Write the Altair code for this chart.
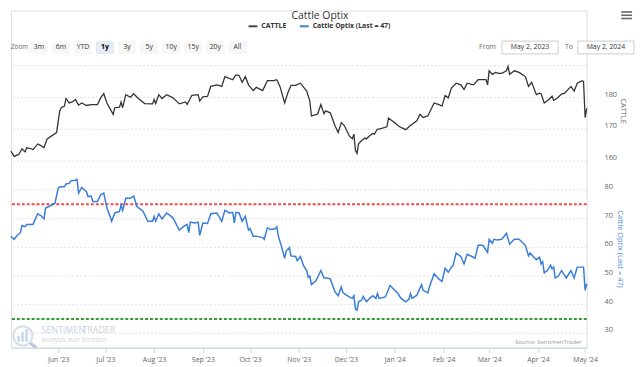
import altair as alt
import pandas as pd

# ---------------- data ----------------
cattle_dates = [
    "2023-05-02", "2023-05-04", "2023-05-07", "2023-05-09", "2023-05-11", "2023-05-12", "2023-05-15", "2023-05-16", "2023-05-19", "2023-05-21",
    "2023-05-23", "2023-05-25", "2023-05-31", "2023-06-02", "2023-06-03", "2023-06-05", "2023-06-06", "2023-06-08", "2023-06-10", "2023-06-12",
    "2023-06-14", "2023-06-16", "2023-06-19", "2023-06-22", "2023-06-26", "2023-06-28", "2023-06-30", "2023-07-02", "2023-07-06", "2023-07-07",
    "2023-07-10", "2023-07-11", "2023-07-12", "2023-07-14", "2023-07-17", "2023-07-19", "2023-07-22", "2023-07-26", "2023-07-31", "2023-08-01",
    "2023-08-02", "2023-08-04", "2023-08-06", "2023-08-09", "2023-08-13", "2023-08-17", "2023-08-21", "2023-08-22", "2023-08-25", "2023-08-29",
    "2023-08-30", "2023-09-01", "2023-09-04", "2023-09-06", "2023-09-10", "2023-09-13", "2023-09-15", "2023-09-20", "2023-09-22", "2023-09-24",
    "2023-09-26", "2023-09-28", "2023-09-30", "2023-10-03", "2023-10-05", "2023-10-09", "2023-10-12", "2023-10-16", "2023-10-18", "2023-10-20",
    "2023-10-23", "2023-10-25", "2023-10-27", "2023-10-30", "2023-11-02", "2023-11-06", "2023-11-08", "2023-11-09", "2023-11-13", "2023-11-15",
    "2023-11-17", "2023-11-18", "2023-11-21", "2023-11-24", "2023-11-26", "2023-11-28", "2023-11-30", "2023-12-03", "2023-12-05", "2023-12-06",
    "2023-12-07", "2023-12-08", "2023-12-09", "2023-12-11", "2023-12-13", "2023-12-14", "2023-12-16", "2023-12-18", "2023-12-19", "2023-12-21",
    "2023-12-22", "2023-12-27", "2023-12-28", "2024-01-01", "2024-01-04", "2024-01-08", "2024-01-10", "2024-01-12", "2024-01-15", "2024-01-17",
    "2024-01-19", "2024-01-22", "2024-01-26", "2024-01-29", "2024-01-31", "2024-02-02", "2024-02-04", "2024-02-06", "2024-02-09", "2024-02-12",
    "2024-02-14", "2024-02-16", "2024-02-20", "2024-02-23", "2024-02-28", "2024-02-29", "2024-03-01", "2024-03-03", "2024-03-05", "2024-03-07",
    "2024-03-09", "2024-03-12", "2024-03-13", "2024-03-14", "2024-03-17", "2024-03-20", "2024-03-24", "2024-03-26", "2024-03-28", "2024-03-31",
    "2024-04-02", "2024-04-03", "2024-04-05", "2024-04-08", "2024-04-10", "2024-04-11", "2024-04-13", "2024-04-16", "2024-04-18", "2024-04-22",
    "2024-04-24", "2024-04-26", "2024-04-29", "2024-04-30", "2024-05-01", "2024-05-02",
]
cattle_values = [
    163.2, 161.5, 162.1, 163.9, 162.9, 164.2, 163.9, 163.6, 165.4, 164.9,
    164.2, 167.0, 169.0, 175.8, 176.8, 177.3, 179.7, 178.3, 178.6, 179.4,
    177.6, 178.3, 177.5, 177.8, 177.8, 179.9, 181.2, 178.3, 174.7, 176.8,
    177.0, 178.6, 176.8, 180.9, 180.1, 181.2, 179.7, 178.1, 178.0, 179.4,
    178.1, 180.9, 179.7, 180.9, 179.9, 178.0, 178.6, 177.8, 180.7, 180.9,
    178.9, 180.2, 180.4, 183.5, 184.0, 183.5, 186.6, 185.6, 187.1, 186.9,
    184.8, 186.6, 184.0, 182.2, 183.2, 182.2, 185.3, 185.3, 185.6, 183.5,
    178.3, 181.4, 183.8, 183.8, 184.5, 182.0, 178.9, 174.2, 174.8, 177.8,
    174.9, 175.8, 175.2, 171.1, 169.0, 172.1, 171.1, 168.0, 167.0, 168.5,
    163.4, 162.4, 165.5, 166.5, 167.3, 167.0, 168.0, 168.7, 168.5, 170.1,
    170.1, 170.8, 173.5, 172.1, 170.8, 169.9, 170.8, 171.6, 172.7, 174.7,
    173.7, 174.2, 178.3, 177.8, 177.3, 180.6, 179.9, 183.0, 184.5, 184.0,
    182.5, 184.5, 184.0, 185.6, 185.6, 184.0, 188.4, 187.3, 187.9, 187.6,
    187.6, 188.4, 189.8, 187.3, 188.4, 187.9, 186.6, 183.5, 184.8, 180.9,
    181.4, 181.2, 178.3, 179.4, 180.4, 179.1, 179.7, 181.1, 181.4, 183.5,
    182.0, 184.5, 185.3, 185.0, 173.7, 176.6,
]

optix_dates = [
    "2023-05-02", "2023-05-04", "2023-05-06", "2023-05-08", "2023-05-09", "2023-05-11", "2023-05-12", "2023-05-15", "2023-05-16", "2023-05-19",
    "2023-05-21", "2023-05-23", "2023-05-24", "2023-05-27", "2023-05-30", "2023-06-01", "2023-06-02", "2023-06-05", "2023-06-06", "2023-06-08",
    "2023-06-09", "2023-06-12", "2023-06-13", "2023-06-14", "2023-06-16", "2023-06-19", "2023-06-20", "2023-06-22", "2023-06-23", "2023-06-26",
    "2023-06-28", "2023-06-30", "2023-07-02", "2023-07-04", "2023-07-05", "2023-07-07", "2023-07-10", "2023-07-11", "2023-07-12", "2023-07-14",
    "2023-07-17", "2023-07-19", "2023-07-21", "2023-07-23", "2023-07-25", "2023-07-28", "2023-07-31", "2023-08-01", "2023-08-02", "2023-08-04",
    "2023-08-06", "2023-08-09", "2023-08-13", "2023-08-17", "2023-08-20", "2023-08-22", "2023-08-23", "2023-08-24", "2023-08-27", "2023-08-29",
    "2023-08-30", "2023-09-01", "2023-09-04", "2023-09-06", "2023-09-10", "2023-09-13", "2023-09-15", "2023-09-18", "2023-09-20", "2023-09-21",
    "2023-09-22", "2023-09-24", "2023-09-26", "2023-09-28", "2023-09-30", "2023-10-01", "2023-10-03", "2023-10-05", "2023-10-09", "2023-10-10",
    "2023-10-12", "2023-10-14", "2023-10-17", "2023-10-18", "2023-10-19", "2023-10-21", "2023-10-23", "2023-10-24", "2023-10-26", "2023-10-27",
    "2023-10-30", "2023-10-31", "2023-11-02", "2023-11-04", "2023-11-06", "2023-11-07", "2023-11-08", "2023-11-09", "2023-11-12", "2023-11-15",
    "2023-11-17", "2023-11-19", "2023-11-21", "2023-11-24", "2023-11-26", "2023-11-28", "2023-11-29", "2023-12-03", "2023-12-05", "2023-12-06",
    "2023-12-07", "2023-12-08", "2023-12-09", "2023-12-11", "2023-12-12", "2023-12-14", "2023-12-16", "2023-12-18", "2023-12-20", "2023-12-21",
    "2023-12-22", "2023-12-26", "2023-12-29", "2024-01-01", "2024-01-03", "2024-01-05", "2024-01-08", "2024-01-10", "2024-01-11", "2024-01-12",
    "2024-01-15", "2024-01-18", "2024-01-19", "2024-01-22", "2024-01-23", "2024-01-26", "2024-01-29", "2024-01-31", "2024-02-02", "2024-02-04",
    "2024-02-06", "2024-02-07", "2024-02-09", "2024-02-12", "2024-02-14", "2024-02-16", "2024-02-19", "2024-02-21", "2024-02-23", "2024-02-26",
    "2024-02-29", "2024-03-01", "2024-03-03", "2024-03-04", "2024-03-06", "2024-03-09", "2024-03-12", "2024-03-14", "2024-03-17", "2024-03-20",
    "2024-03-24", "2024-03-26", "2024-03-27", "2024-03-31", "2024-04-02", "2024-04-03", "2024-04-04", "2024-04-05", "2024-04-07", "2024-04-09",
    "2024-04-10", "2024-04-11", "2024-04-12", "2024-04-14", "2024-04-16", "2024-04-17", "2024-04-19", "2024-04-22", "2024-04-24", "2024-04-26",
    "2024-04-29", "2024-04-30", "2024-05-01", "2024-05-02",
]
optix_values = [
    63.9, 62.8, 64.2, 65.1, 67.6, 67.2, 68.0, 68.0, 68.0, 71.7,
    71.1, 69.9, 73.7, 74.5, 75.4, 80.6, 81.1, 81.1, 82.1, 82.3,
    83.2, 83.4, 83.7, 78.9, 80.9, 79.4, 77.7, 77.9, 76.0, 76.0,
    78.3, 78.9, 73.7, 70.8, 69.1, 72.0, 72.5, 74.8, 72.9, 77.1,
    77.1, 77.9, 74.3, 73.4, 72.5, 69.1, 69.1, 70.8, 69.1, 71.7,
    69.9, 72.0, 70.3, 66.0, 67.4, 68.0, 65.1, 68.8, 68.5, 68.8,
    64.2, 68.5, 68.3, 71.7, 72.0, 69.1, 72.9, 72.0, 72.2, 68.5,
    72.2, 72.0, 69.1, 70.8, 66.0, 66.5, 63.9, 63.9, 63.4, 62.8,
    66.8, 66.2, 66.5, 67.2, 63.9, 60.3, 56.2, 58.8, 59.9, 57.0,
    56.8, 55.3, 56.8, 53.6, 51.9, 49.6, 50.0, 47.0, 48.4, 51.9,
    49.3, 49.3, 49.0, 44.5, 43.1, 46.2, 44.2, 42.7, 42.2, 43.1,
    38.5, 38.1, 41.0, 41.6, 42.9, 41.0, 42.2, 43.1, 42.2, 43.9,
    42.2, 42.7, 46.7, 45.0, 43.9, 42.2, 41.0, 41.9, 43.9, 42.2,
    43.3, 47.0, 45.0, 44.1, 46.2, 50.8, 49.0, 48.1, 52.7, 51.3,
    53.1, 53.6, 58.0, 56.8, 54.2, 57.6, 56.8, 56.2, 60.7, 60.7,
    58.2, 62.8, 61.4, 62.8, 62.6, 62.8, 64.9, 61.1, 62.8, 62.8,
    60.7, 57.0, 58.0, 55.7, 56.5, 54.2, 55.0, 51.1, 51.9, 53.8,
    52.5, 53.1, 49.3, 50.0, 51.9, 51.1, 49.3, 51.9, 49.3, 53.1,
    53.1, 53.1, 45.0, 47.3,
]

optix_upper_level = 75
optix_lower_level = 35
cattle_ticks = [160, 170, 180]
cattle_grid = [160, 170, 180, 190]
optix_ticks = [30, 40, 50, 60, 70, 80]
month_ticks = [(2023, 6), (2023, 7), (2023, 8), (2023, 9), (2023, 10), (2023, 11),
               (2023, 12), (2024, 1), (2024, 2), (2024, 3), (2024, 4), (2024, 5)]
zoom_buttons = ["3m", "6m", "YTD", "1y", "3y", "5y", "10y", "15y", "20y", "All"]
selected_zoom = "1y"
chart_title = "Cattle Optix"
series_names = ["CATTLE", "Cattle Optix (Last = 47)"]
range_labels = ["From", "May 2, 2023", "To", "May 2, 2024"]
source_note = "Source: SentimenTrader"
brand_parts = ["SENTIMEN", "TRADER", "Analysis over Emotion"]

# ---------------- styling / layout ----------------
FONT = "Open Sans"
W = 584
H = 342
DARK = "#333333"
BLUE = "#3a7dd8"
GRID = "#e2e2e2"
AXIS_LINE = "#ccd6eb"
LABEL = "#666666"

x_scale = alt.Scale(
    type="utc",
    domain=[alt.DateTime(year=2023, month=5, date=2, utc=True),
            alt.DateTime(year=2024, month=5, date=2, utc=True)],
)
cattle_scale = alt.Scale(domain=[159, 190], range=[156, 56], nice=False, zero=False)
optix_scale = alt.Scale(domain=[25, 85], range=[342, 167.5], nice=False, zero=False)


def one(v):
    return pd.DataFrame({"t": [v]})


def txt(value, x, y, size=7, color=DARK, align="left", weight="normal", angle=0):
    return alt.Chart(one(value)).mark_text(
        font=FONT, fontSize=size, color=color, align=align, baseline="middle",
        fontWeight=weight, angle=angle,
    ).encode(text="t:N", x=alt.value(x), y=alt.value(y))


# ---------------- header ----------------
title_layer = txt(chart_title, 313.5, 5.6, size=10.5, align="center")

leg_line1 = alt.Chart(one(series_names[0])).mark_rule(color="#444444", strokeWidth=2).encode(
    x=alt.value(241), x2=alt.value(250), y=alt.value(16))
leg_text1 = txt(series_names[0], 254, 16, weight="bold")
leg_line2 = alt.Chart(one(series_names[1])).mark_rule(color=BLUE, strokeWidth=2).encode(
    x=alt.value(293), x2=alt.value(302), y=alt.value(16))
leg_text2 = txt(series_names[1], 306, 16, weight="bold")

btn_df = pd.DataFrame({"btn": zoom_buttons})
btn_x = alt.X("btn:N", sort=zoom_buttons,
              scale=alt.Scale(domain=zoom_buttons, range=[19, 239], paddingInner=0.17, paddingOuter=0),
              axis=None)
btn_rect = alt.Chart(btn_df).mark_bar(cornerRadius=2).encode(
    x=btn_x, y=alt.value(31), y2=alt.value(44),
    color=alt.when(alt.datum.btn == selected_zoom).then(alt.value("#e6ebf5")).otherwise(alt.value("#f7f7f7")),
)
btn_text = alt.Chart(btn_df).transform_filter(alt.datum.btn != selected_zoom).mark_text(
    font=FONT, fontSize=7, color=DARK, baseline="middle"
).encode(x=btn_x, y=alt.value(37.5), text="btn:N")
btn_text_sel = alt.Chart(btn_df).transform_filter(alt.datum.btn == selected_zoom).mark_text(
    font=FONT, fontSize=7, fontWeight="bold", color="#000000", baseline="middle"
).encode(x=btn_x, y=alt.value(37.5), text="btn:N")
buttons = alt.layer(btn_rect, btn_text, btn_text_sel)

zoom_label = txt("Zoom", 0, 37.5, size=6.5, color=LABEL)
from_label = txt(range_labels[0], 492, 37.5, color=LABEL, align="right")
box1 = alt.Chart(one(range_labels[1])).mark_rect(fill="white", stroke="#cccccc", strokeWidth=1).encode(
    x=alt.value(498), x2=alt.value(555), y=alt.value(31), y2=alt.value(44))
box1_text = txt(range_labels[1], 526.5, 37.5, align="center")
to_label = txt(range_labels[2], 570, 37.5, color=LABEL, align="right")
box2 = alt.Chart(one(range_labels[3])).mark_rect(fill="white", stroke="#cccccc", strokeWidth=1).encode(
    x=alt.value(575), x2=alt.value(632), y=alt.value(31), y2=alt.value(44))
box2_text = txt(range_labels[3], 603.5, 37.5, align="center")

menu_layers = [
    alt.Chart(one("menu")).mark_rule(color="#666666", strokeWidth=1.6).encode(
        x=alt.value(619), x2=alt.value(630), y=alt.value(yy))
    for yy in (1.5, 4.8, 8.1)
]

# ---------------- CATTLE pane ----------------
cattle_df = pd.DataFrame({"date": cattle_dates, "value": cattle_values})
cattle_line = alt.Chart(cattle_df).mark_line(color=DARK, strokeWidth=1.3).encode(
    x=alt.X("date:T", scale=x_scale, axis=None),
    y=alt.Y("value:Q", scale=cattle_scale, axis=None),
)
cattle_gridlines = alt.Chart(pd.DataFrame({"value": cattle_grid})).mark_rule(
    color=GRID, strokeDash=[2, 2], strokeWidth=1
).encode(y=alt.Y("value:Q", scale=cattle_scale, axis=None))
cattle_labels = alt.Chart(pd.DataFrame({"value": cattle_ticks, "lab": [str(v) for v in cattle_ticks]})).mark_text(
    font=FONT, fontSize=7.5, color=LABEL, align="left", baseline="middle", dy=-3
).encode(y=alt.Y("value:Q", scale=cattle_scale, axis=None), x=alt.value(W + 18), text="lab:N")
cattle_title = txt(series_names[0], 621, 102, size=7.5, color=LABEL, align="center", angle=90)
cattle_pane = alt.layer(cattle_gridlines, cattle_labels, cattle_line)

# ---------------- Optix pane ----------------
optix_df = pd.DataFrame({"date": optix_dates, "value": optix_values})
optix_line = alt.Chart(optix_df).mark_line(color=BLUE, strokeWidth=1.5).encode(
    x=alt.X("date:T", scale=x_scale,
            axis=alt.Axis(values=[alt.DateTime(year=yy, month=mm, date=1, utc=True) for yy, mm in month_ticks],
                          labelExpr="utcFormat(datum.value, \"%b '%y\")",
                          title=None, grid=False, domainColor=AXIS_LINE, tickColor=AXIS_LINE,
                          tickSize=5, labelColor=LABEL, labelFontSize=7, labelFont=FONT,
                          labelPadding=3, labelFlush=False, labelOverlap=False)),
    y=alt.Y("value:Q", scale=optix_scale, axis=None),
)
optix_gridlines = alt.Chart(pd.DataFrame({"value": optix_ticks})).mark_rule(
    color=GRID, strokeDash=[2, 2], strokeWidth=1
).encode(y=alt.Y("value:Q", scale=optix_scale, axis=None))
optix_labels = alt.Chart(pd.DataFrame({"value": optix_ticks, "lab": [str(v) for v in optix_ticks]})).mark_text(
    font=FONT, fontSize=7.5, color=LABEL, align="left", baseline="middle", dy=-3
).encode(y=alt.Y("value:Q", scale=optix_scale, axis=None), x=alt.value(W + 18), text="lab:N")
upper_rule = alt.Chart(pd.DataFrame({"value": [optix_upper_level]})).mark_rule(
    color="#f24a4a", strokeDash=[3, 2], strokeWidth=2
).encode(y=alt.Y("value:Q", scale=optix_scale, axis=None))
lower_rule = alt.Chart(pd.DataFrame({"value": [optix_lower_level]})).mark_rule(
    color="#2f9e2f", strokeDash=[3, 2], strokeWidth=2
).encode(y=alt.Y("value:Q", scale=optix_scale, axis=None))
optix_title = txt(series_names[1], 618, 242, size=7.5, color="#4a86d4", align="center", angle=90)
optix_pane = alt.layer(optix_gridlines, optix_labels, upper_rule, lower_rule, optix_line)

# ---------------- watermark & source ----------------
logo_circle = alt.Chart(one("logo")).mark_point(
    shape="circle", filled=False, size=380, stroke="#c9d2dc", strokeWidth=2.2
).encode(x=alt.value(12), y=alt.value(330))
logo_handle = alt.Chart(one("logo")).mark_rule(color="#b9c8d8", strokeWidth=3).encode(
    x=alt.value(19.5), x2=alt.value(26), y=alt.value(337.5), y2=alt.value(342))
logo_bars = [
    alt.Chart(one("logo")).mark_rect(color="#c6d6e8").encode(
        x=alt.value(bx), x2=alt.value(bx + 2.5), y=alt.value(by), y2=alt.value(336))
    for bx, by in ((6.5, 330), (10.5, 326), (14.5, 323))
]
brand1 = txt(brand_parts[0], 31, 323.8, size=9, color="#c2d3e8")
brand2 = txt(brand_parts[1], 72.5, 323.8, size=9, color="#cfcfcf")
brand3 = txt(brand_parts[2], 31, 334, size=6.5, color="#d4d4d4")
source = txt(source_note, 579, 336, size=6, color="#999999", align="right")

chart = alt.layer(
    title_layer, leg_line1, leg_text1, leg_line2, leg_text2,
    buttons, zoom_label, from_label, box1, box1_text, to_label, box2, box2_text, *menu_layers,
    logo_circle, logo_handle, *logo_bars, brand1, brand2, brand3, source,
    cattle_pane, cattle_title, optix_pane, optix_title,
).resolve_scale(
    x="independent", y="independent"
).properties(
    width=W, height=H, padding=0, background="white"
).configure_view(strokeWidth=0).configure(font=FONT)

chart.save("out.html", embed_options={"renderer": "svg", "actions": False})
